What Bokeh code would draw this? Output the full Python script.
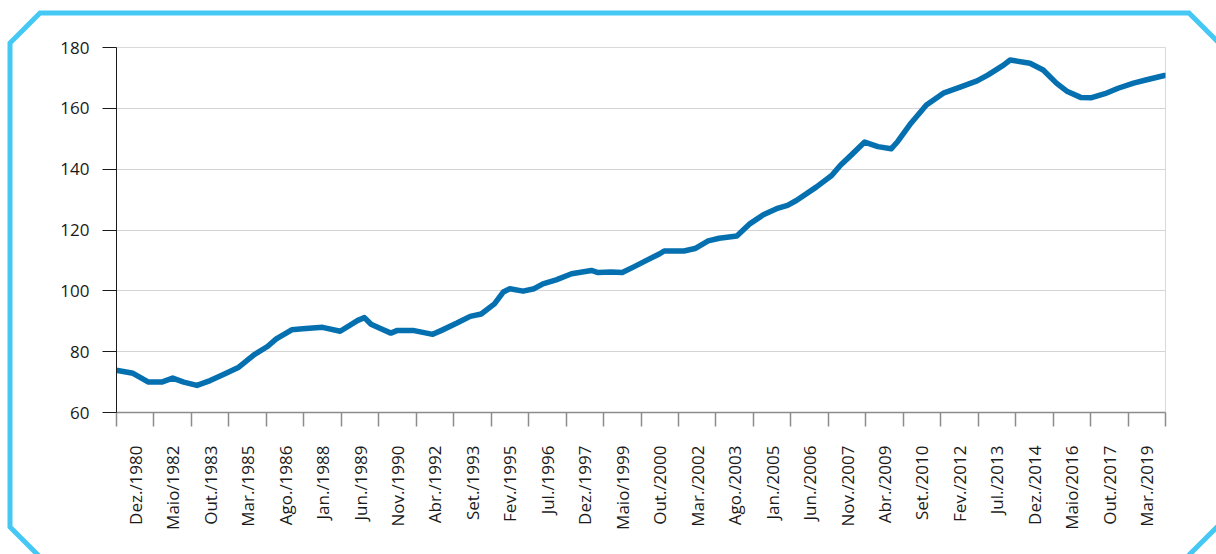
import math
from bokeh.plotting import figure
from bokeh.models import Range1d, FixedTicker
from bokeh.embed import file_html
from bokeh.resources import INLINE

# Month offsets counted from Dez./1980 (0 = Dez./1980) and index values
months = [0, 7, 14, 20, 25, 30, 36, 42, 48, 55, 62, 68, 72, 79, 84, 93, 101, 109, 112,
          115, 119, 124, 127, 134, 143, 147, 154, 160, 165, 171, 175, 178, 184, 189, 193,
          199, 206, 215, 218, 224, 229, 234, 240, 246, 248, 257, 262, 268, 273, 281, 287,
          293, 299, 304, 308, 317, 324, 328, 333, 339, 345, 351, 354, 360, 367, 375, 382,
          390, 395, 402, 405, 414, 420, 426, 431, 437, 442, 448, 454, 461, 467, 475]
values = [73.8, 72.9, 70.0, 70.0, 71.3, 70.0, 68.9, 70.5, 72.5, 74.9, 79.0, 81.7, 84.2,
          87.2, 87.5, 88.0, 86.7, 90.3, 91.2, 89.0, 87.7, 86.1, 87.0, 87.0, 85.7, 87.0,
          89.4, 91.6, 92.4, 95.7, 99.6, 100.7, 99.9, 100.7, 102.3, 103.6, 105.6, 106.7,
          106.0, 106.2, 106.0, 107.8, 110.0, 112.2, 113.1, 113.1, 113.9, 116.4, 117.3,
          118.0, 122.1, 125.0, 127.0, 128.1, 129.7, 134.1, 137.9, 141.3, 144.7, 148.9,
          147.4, 146.7, 149.1, 155.1, 161.1, 165.1, 166.9, 169.0, 171.0, 174.2, 175.9,
          174.8, 172.6, 168.3, 165.5, 163.6, 163.5, 164.8, 166.6, 168.3, 169.4, 170.8]

tick_labels = ["Dez./1980", "Maio/1982", "Out./1983", "Mar./1985", "Ago./1986", "Jan./1988",
               "Jun./1989", "Nov./1990", "Abr./1992", "Set./1993", "Fev./1995", "Jul./1996",
               "Dez./1997", "Maio/1999", "Out./2000", "Mar./2002", "Ago./2003", "Jan./2005",
               "Jun./2006", "Nov./2007", "Abr./2009", "Set./2010", "Fev./2012", "Jul./2013",
               "Dez./2014", "Maio/2016", "Out./2017", "Mar./2019"]
label_step = 17  # months between labels
y_ticks = [60, 80, 100, 120, 140, 160, 180]

n_months = label_step * len(tick_labels)
FONT = "Open Sans"

# light-blue frame with cut corners drawn behind the (transparent) canvas border
border_svg = ("data:image/svg+xml;utf8,<svg xmlns='http://www.w3.org/2000/svg' width='1216' height='554'>"
              "<polygon points='10,43 40,13 1189,13 1221,45 1221,523 1187,557 40,557 10,527' "
              "fill='none' stroke='%2345C8F3' stroke-width='5'/></svg>")

p = figure(width=1216, height=554, output_backend="svg", toolbar_location=None,
           x_range=Range1d(-0.5, n_months - 0.5), y_range=Range1d(60, 180),
           min_border_left=116, min_border_right=51, min_border_top=47, min_border_bottom=142,
           styles={"background-color": "white",
                   "background-image": f'url("{border_svg}")',
                   "background-repeat": "no-repeat"})
p.background_fill_color = "white"
p.border_fill_color = None
p.outline_line_color = "#D9D9D9"

p.line(months, values, line_width=5.5, line_color="#0570B0", line_join="round", line_cap="round")

# x axis: labels centred in each 17-month group, tick marks at group boundaries
centers = [label_step * k + (label_step - 1) / 2 for k in range(len(tick_labels))]
bounds = [label_step * k - 0.5 for k in range(len(tick_labels) + 1)]
xa = p.xaxis[0]
xa.ticker = FixedTicker(ticks=centers, minor_ticks=bounds)
xa.major_label_overrides = {c: t for c, t in zip(centers, tick_labels)}
xa.major_label_orientation = math.pi / 2
xa.major_tick_line_color = None
xa.major_tick_in = 0
xa.major_tick_out = 0
xa.minor_tick_in = 0
xa.minor_tick_out = 14
xa.minor_tick_line_color = "#8C8C8C"
xa.minor_tick_line_width = 1.5
xa.axis_line_color = "#8C8C8C"
xa.axis_line_width = 1.5
xa.major_label_standoff = 19
xa.major_label_text_font = FONT
xa.major_label_text_font_size = "17px"
xa.major_label_text_color = "#1A1A1A"

ya = p.yaxis[0]
ya.ticker = FixedTicker(ticks=y_ticks)
ya.minor_tick_line_color = None
ya.major_tick_in = 0
ya.major_tick_out = 14
ya.major_tick_line_color = "#1A1A1A"
ya.axis_line_color = "#1A1A1A"
ya.major_label_standoff = 13
ya.major_label_text_font = FONT
ya.major_label_text_font_size = "17px"
ya.major_label_text_color = "#1A1A1A"

p.xgrid.grid_line_color = None
p.ygrid.grid_line_color = "#D4D4D4"
p.ygrid.grid_line_width = 1.2

open("out.html", "w").write(file_html(p, INLINE))
